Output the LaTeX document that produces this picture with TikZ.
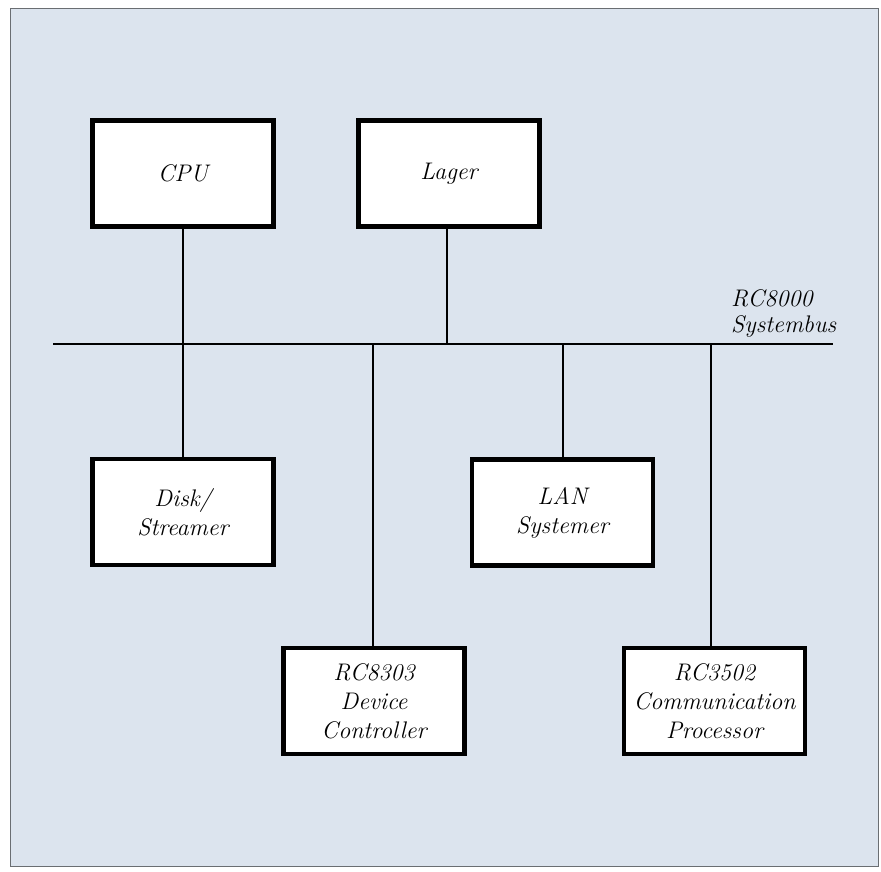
\documentclass[tikz,border=0pt]{standalone}
\usepackage{tikz}
\usetikzlibrary{positioning, calc}
\definecolor{panelBg}{HTML}{DCE4EE}
\definecolor{frameGrey}{HTML}{6A6E72}

\begin{document}
\begin{tikzpicture}[
  x=1pt, y=-1pt,
  unit/.style={draw, line width=4.5pt, fill=white, minimum width=181pt, minimum height=106pt,
    align=center, font=\itshape\fontsize{24}{29}\selectfont},
  link/.style={line width=2pt},
  busline/.style={line width=2.4pt}
]
  \useasboundingbox (0,0) rectangle (881,871);
  \fill[white] (0,0) rectangle (881,871);
  \draw[frameGrey, fill=panelBg, line width=1pt] (10,8) rectangle (878,866);

  % system bus
  \coordinate (busL) at (53,344);
  \coordinate (busR) at (833,344);
  \draw[busline] (busL) -- (busR);
  \node[anchor=south west, inner sep=0pt, align=left, font=\itshape\fontsize{24}{26}\selectfont]
    (buslabel) at (731,338) {RC8000\\Systembus};

  % units
  \node[unit] (cpu) at (183,173.5) {CPU};
  \node[unit] (mem) at (449,173.5) {Lager};
  \node[unit] (disk) at (183,512) {Disk/\\Streamer};
  \node[unit] (lan) at (562.5,512.5) {LAN\\Systemer};
  \node[unit] (dev) at (374,701) {RC8303\\Device\\Controller};
  \node[unit] (comm) at (714.5,701) {RC3502\\Communication\\Processor};

  % connections to the bus
  \draw[link] (cpu.south) -- (cpu.south |- busL);
  \draw[link] ([xshift=-2pt]mem.south) -- ([xshift=-2pt]mem.south |- busL);
  \draw[link] (disk.north) -- (disk.north |- busL);
  \draw[link] (lan.north) -- (lan.north |- busL);
  \draw[link] ([xshift=-1pt]dev.north) -- ([xshift=-1pt]dev.north |- busL);
  \draw[link] ([xshift=-3.5pt]comm.north) -- ([xshift=-3.5pt]comm.north |- busL);
\end{tikzpicture}
\end{document}
